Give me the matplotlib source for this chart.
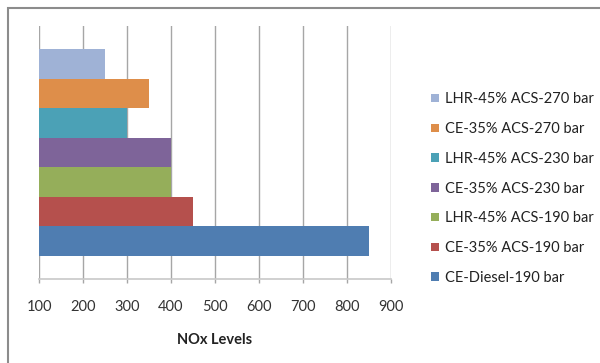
import matplotlib
matplotlib.use("Agg")
import matplotlib.pyplot as plt
from matplotlib.patches import Rectangle, Patch

plt.rcParams['font.family'] = ['Lato', 'DejaVu Sans']

# bottom to top, as the bars are stacked
labels = ["CE-Diesel-190 bar", "CE-35% ACS-190 bar", "LHR-45% ACS-190 bar",
          "CE-35% ACS-230 bar", "LHR-45% ACS-230 bar", "CE-35% ACS-270 bar",
          "LHR-45% ACS-270 bar"]
nox = [850, 450, 400, 400, 300, 350, 250]
colors = ["#4F7DB1", "#B5504D", "#95AE5A", "#7E6499", "#4BA1B6", "#DE8E4A", "#9FB2D6"]
xticks = [100, 200, 300, 400, 500, 600, 700, 800, 900]

fig = plt.figure(figsize=(6, 3.63), dpi=100)
ax = fig.add_axes([39 / 600, 1 - 279 / 363, 352 / 600, 253 / 363])

for i in range(len(nox)):
    ax.barh(i, nox[i], height=1.0, color=colors[i], label=labels[i], zorder=3)

ax.set_xlim(100, 900)
ax.set_ylim(-0.5 - 0.78, 6.5 + 0.78)
ax.set_xticks(xticks)
ax.set_yticks([])
ax.grid(axis="x", color="#a6a6a6", linewidth=1.0, zorder=0)

for s in ["top", "right", "left"]:
    ax.spines[s].set_visible(False)
ax.spines["bottom"].set_color("#c8c8c8")
ax.spines["bottom"].set_linewidth(1.2)
ax.tick_params(axis="x", length=3, width=1, color="#a6a6a6", pad=12,
               labelsize=10.5, labelcolor="#333333")
ax.set_xlabel("NOx Levels", fontsize=10.5, fontweight="bold", labelpad=14, color="#222222")

handles = [Patch(facecolor=colors[i], label=labels[i]) for i in range(len(nox))][::-1]
fig.legend(handles=handles, loc="upper left", bbox_to_anchor=(424 / 600, 1 - 85 / 363),
           frameon=False, fontsize=10.5, handlelength=0.5, handleheight=0.5,
           handletextpad=0.45, labelspacing=1.08, borderpad=0, labelcolor="#222222")

# chart border (left and top edges fall inside the image)
fig.add_artist(Rectangle((8 / 600, -0.1), 1.2, 1.1 - 8 / 363, transform=fig.transFigure,
                         fill=False, edgecolor="#8c8c8c", linewidth=1.5))

fig.savefig("out.png", dpi=100)
